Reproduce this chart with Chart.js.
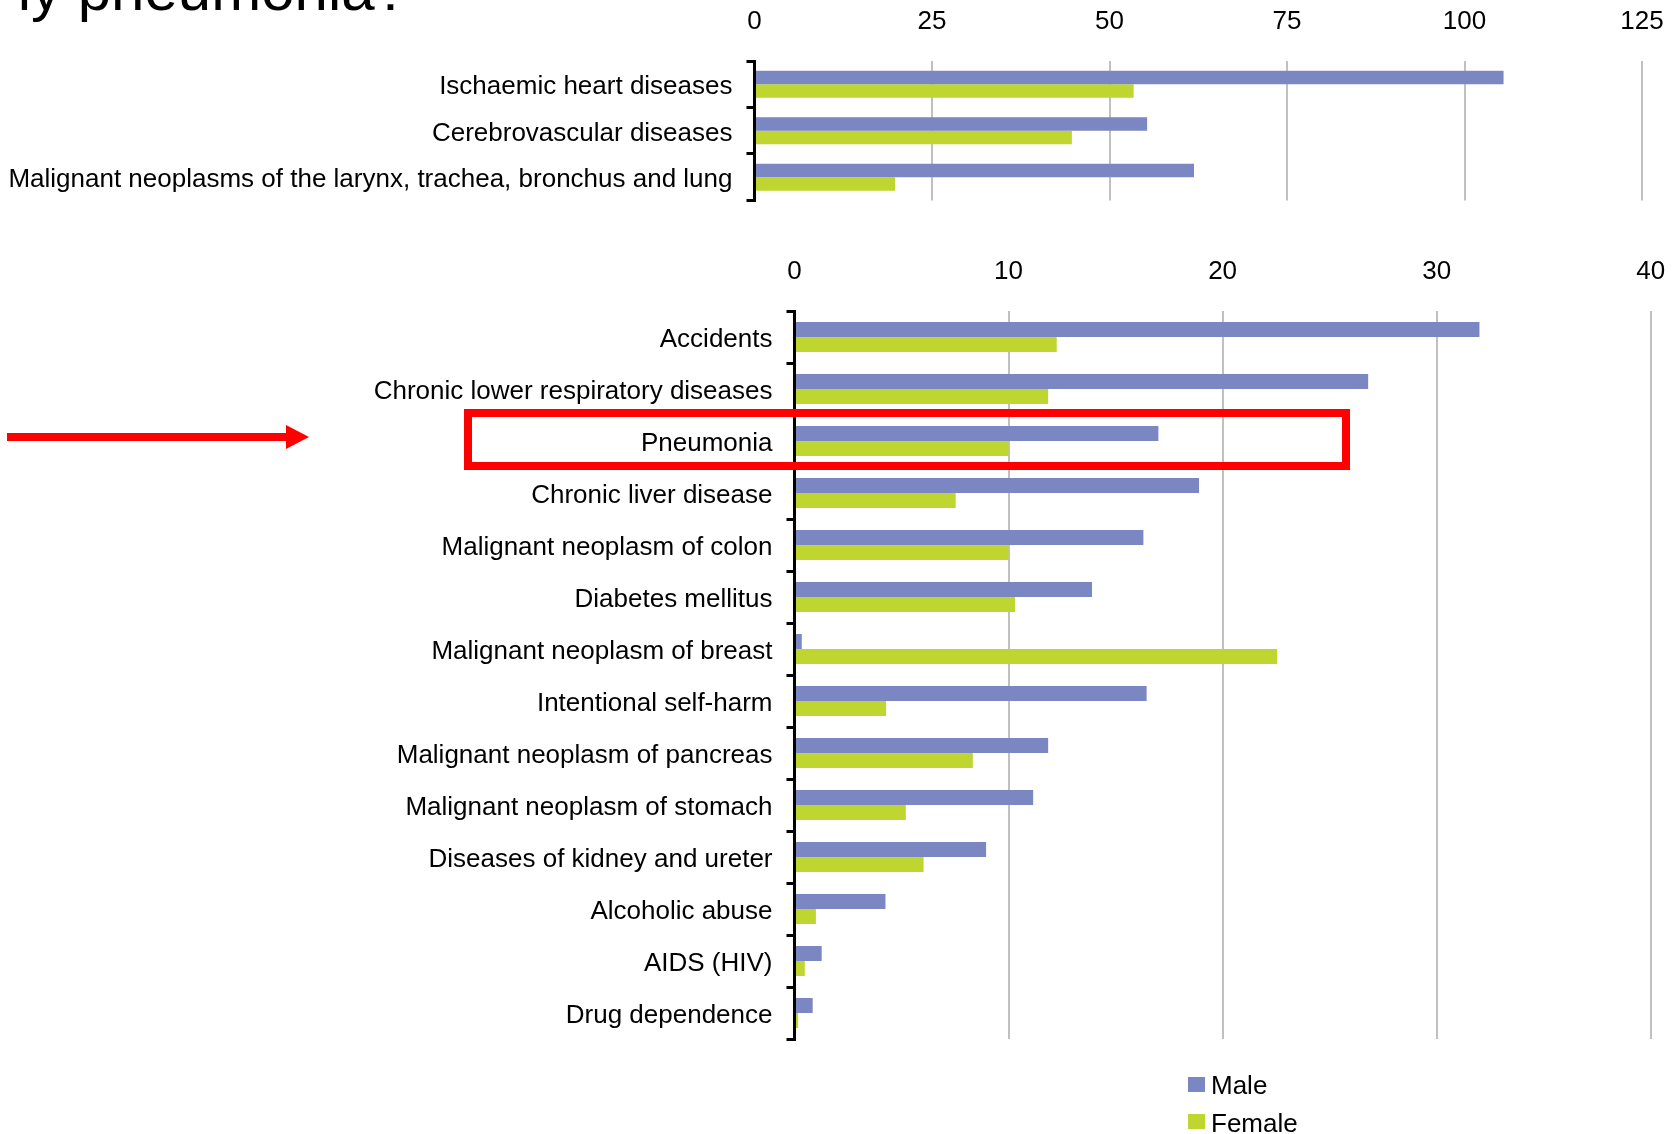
<!DOCTYPE html>
<html>
<head>
<meta charset="utf-8">
<title>Death rates by cause and sex</title>
<script src="https://cdn.jsdelivr.net/npm/chart.js@4.4.1/dist/chart.umd.min.js"></script>
<style>
  html, body { margin: 0; padding: 0; background: #fff; width: 1680px; height: 1134px; overflow: hidden; }
  #page { position: relative; width: 1680px; height: 1134px; }
  .wrap { position: absolute; left: 0; width: 1680px; }
  #wrapTop { top: 0; height: 230px; }
  #wrapMain { top: 230px; height: 850px; }
  canvas { display: block; }
  #legend { position: absolute; left: 1188px; top: 0; font: 26px "Liberation Sans", Arial, sans-serif; color: #000; }
  .row { position: absolute; left: 0; height: 30px; line-height: 30px; white-space: nowrap; }
  .swatch { position: absolute; left: 0; width: 17px; height: 15px; }
  .name { position: absolute; left: 23px; top: 0; }
  #marks { position: absolute; left: 0; top: 0; z-index: 5; }
</style>
</head>
<body>
<div id="page">
  <div class="wrap" id="wrapTop"><canvas id="chartTop" width="1680" height="230"></canvas></div>
  <div class="wrap" id="wrapMain"><canvas id="chartMain" width="1680" height="850"></canvas></div>
  <div id="legend"></div>
  <svg id="marks" width="1680" height="1134" xmlns="http://www.w3.org/2000/svg">
    <text x="408" y="10" text-anchor="end" font-family="Liberation Sans, Arial, sans-serif" font-size="60" fill="#000">ly pneumonia?</text>
    <rect x="7" y="433" width="280" height="8" fill="#ff0000"/>
    <polygon points="286,425 309,437 286,449" fill="#ff0000"/>
    <rect x="468" y="413" width="878" height="53" fill="none" stroke="#ff0000" stroke-width="8"/>
  </svg>
</div>
<script>
// Leading causes: rates per 100 000, by sex
const seriesNames = ['Male', 'Female'];
const seriesColors = ['#7b87c2', '#bed62f'];

const topCategories = [
  'Ischaemic heart diseases',
  'Cerebrovascular diseases',
  'Malignant neoplasms of the larynx, trachea, bronchus and lung'
];
const topMale = [105.5, 55.3, 61.9];
const topFemale = [53.4, 44.7, 19.8];
const topTicks = [0, 25, 50, 75, 100, 125];

const mainCategories = [
  'Accidents',
  'Chronic lower respiratory diseases',
  'Pneumonia',
  'Chronic liver disease',
  'Malignant neoplasm of colon',
  'Diabetes mellitus',
  'Malignant neoplasm of breast',
  'Intentional self-harm',
  'Malignant neoplasm of pancreas',
  'Malignant neoplasm of stomach',
  'Diseases of kidney and ureter',
  'Alcoholic abuse',
  'AIDS (HIV)',
  'Drug dependence'
];
const mainMale = [32.0, 26.8, 17.0, 18.9, 16.3, 13.9, 0.34, 16.45, 11.85, 11.15, 8.95, 4.25, 1.27, 0.85];
const mainFemale = [12.25, 11.85, 10.0, 7.53, 10.0, 10.3, 22.55, 4.28, 8.33, 5.2, 6.03, 1.0, 0.48, 0.17];
const mainTicks = [0, 10, 20, 30, 40];

const FONT = '"Liberation Sans", Arial, sans-serif';
Chart.defaults.font.family = FONT;
Chart.defaults.color = '#000';

function barChart(canvasId, categories, male, female, ticks, box) {
  return new Chart(document.getElementById(canvasId), {
    type: 'bar',
    data: {
      labels: categories,
      datasets: [
        { label: seriesNames[0], data: male, backgroundColor: seriesColors[0] },
        { label: seriesNames[1], data: female, backgroundColor: seriesColors[1] }
      ]
    },
    options: {
      indexAxis: 'y',
      responsive: false,
      animation: false,
      layout: { padding: { left: 0, top: 0, right: box.padRight, bottom: box.padBottom } },
      datasets: { bar: { categoryPercentage: 0.58, barPercentage: 1, borderWidth: 0 } },
      plugins: { legend: { display: false }, tooltip: { enabled: false } },
      scales: {
        x: {
          position: 'top',
          min: ticks[0],
          max: ticks[ticks.length - 1],
          ticks: { stepSize: ticks[1] - ticks[0], padding: 0, color: '#000', font: { size: 26 } },
          // invisible tick marks keep the labels clear of the plot area
          grid: { color: '#c0c0c0', lineWidth: 2, drawTicks: true, tickLength: 24, tickColor: 'rgba(0,0,0,0)' },
          border: { display: false },
          afterFit: s => { s.height = box.axisHeight; }
        },
        y: {
          ticks: { padding: 14, labelOffset: 3, color: '#000', font: { size: 26 }, autoSkip: false },
          grid: { drawOnChartArea: false, drawTicks: true, tickLength: 8, color: '#000', lineWidth: 3 },
          border: { display: true, color: '#000', width: 3, z: 1 },
          afterFit: s => { s.width = box.labelWidth; }
        }
      }
    }
  });
}

const chartTop = barChart('chartTop', topCategories, topMale, topFemale, topTicks,
  { labelWidth: 754.5, axisHeight: 61, padRight: 38, padBottom: 27 });
const chartMain = barChart('chartMain', mainCategories, mainMale, mainFemale, mainTicks,
  { labelWidth: 794.5, axisHeight: 81, padRight: 29.3, padBottom: 41 });

// Legend for the series, stacked vertically under the lower chart
const legend = document.getElementById('legend');
const rowTops = [1070, 1108];
chartMain.data.datasets.forEach((ds, i) => {
  const row = document.createElement('div');
  row.className = 'row';
  row.style.top = rowTops[i] + 'px';
  const sw = document.createElement('span');
  sw.className = 'swatch';
  sw.style.top = (i === 0 ? 7 : 6) + 'px';
  sw.style.background = ds.backgroundColor;
  const nm = document.createElement('span');
  nm.className = 'name';
  nm.textContent = ds.label;
  row.appendChild(sw);
  row.appendChild(nm);
  legend.appendChild(row);
});
</script>
</body>
</html>
